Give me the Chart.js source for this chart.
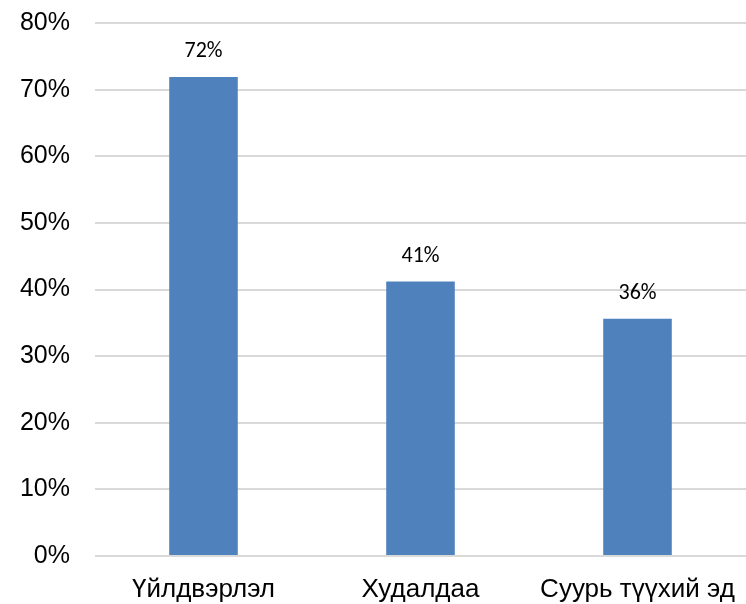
<!DOCTYPE html>
<html>
<head>
<meta charset="utf-8">
<title>Chart</title>
<script src="https://cdn.jsdelivr.net/npm/chart.js@4.4.0/dist/chart.umd.min.js"></script>
<style>
    html, body { margin: 0; padding: 0; background: #ffffff; }
    #chartBox { width: 746px; height: 604px; }
</style>
</head>
<body>
<div id="chartBox"><canvas id="htmlElentChart"></canvas></div>
<script>
'use strict';

// categories and values
let categoryArray = ['Үйлдвэрлэл', 'Худалдаа', 'Суурь түүхий эд'];
let shareArray = [71.9, 41.2, 35.6];
let tickArray = [0, 10, 20, 30, 40, 50, 60, 70, 80];

let barColor = '#4f81bd';
let gridColor = '#d9d9d9';

// draws the % text above every bar
let barLabelPlugin = {
    id: 'barLabelPlugin',
    afterDatasetsDraw(chart) {
        let ctx = chart.ctx;
        let meta = chart.getDatasetMeta(0);
        ctx.save();
        ctx.font = '22px Carlito, Lato, "Open Sans", sans-serif';
        ctx.fillStyle = '#000000';
        ctx.textAlign = 'center';
        ctx.textBaseline = 'middle';
        for (let i = 0; i < meta.data.length; i++) {
            let bar = meta.data[i];
            ctx.fillText(Math.round(shareArray[i]) + '%', bar.x, bar.y - 25);
        }
        ctx.restore();
    }
};

let ctx = document.getElementById('htmlElentChart').getContext('2d');
let shareChart = new Chart(ctx, {
    type: 'bar',
    data: {
        labels: categoryArray,
        datasets: [{
            label: 'Share',
            data: shareArray,
            backgroundColor: barColor,
            borderWidth: 0,
            barPercentage: 1,
            categoryPercentage: 0.316
        }]
    },
    options: {
        responsive: true,
        maintainAspectRatio: false,
        animation: false,
        layout: {
            padding: { top: 23, right: 0, bottom: 0, left: 0 }
        },
        plugins: {
            legend: { display: false },
            tooltip: { enabled: false }
        },
        scales: {
            x: {
                grid: { display: false },
                border: { display: false },
                ticks: {
                    color: '#000000',
                    padding: 10,
                    maxRotation: 0,
                    font: { family: '"Liberation Sans", Arial, sans-serif', size: 26 }
                },
                afterFit(scale) {
                    // keep the plot running to the right edge like the original
                    scale.height = 48;
                    scale.paddingLeft = 0;
                    scale.paddingRight = 0;
                }
            },
            y: {
                min: 0,
                max: 80,
                afterBuildTicks(scale) {
                    scale.ticks = tickArray.map(v => ({ value: v }));
                },
                grid: {
                    color: gridColor,
                    lineWidth: 2,
                    drawTicks: false
                },
                border: { display: false },
                ticks: {
                    color: '#000000',
                    padding: 25,
                    font: { family: '"Liberation Sans", Arial, sans-serif', size: 25 },
                    callback: function (value) {
                        return value + '%';
                    }
                },
                afterFit(scale) {
                    scale.width = 95;
                    scale.paddingTop = 0;
                    scale.paddingBottom = 0;
                }
            }
        }
    },
    plugins: [barLabelPlugin]
});
</script>
</body>
</html>
